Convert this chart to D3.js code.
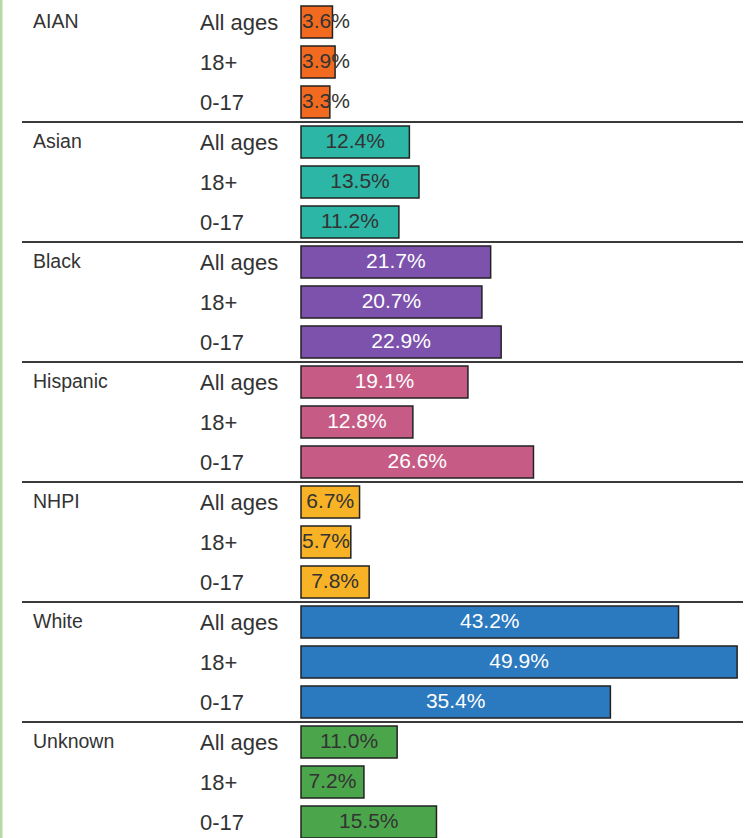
<!DOCTYPE html>
<html>
<head>
<meta charset="utf-8">
<script src="https://cdn.jsdelivr.net/npm/d3@7"></script>
<style>
  body { margin: 0; background: #fff; }
  svg { display: block; font-family: "Liberation Sans", Arial, sans-serif; }
</style>
</head>
<body>
<div id="chart"></div>
<script>
// groups and age bands
const groups = ['AIAN', 'Asian', 'Black', 'Hispanic', 'NHPI', 'White', 'Unknown'];
const ages = ['All ages', '18+', '0-17'];

// percent values per group, in the order of ages
const aianValues = [3.6, 3.9, 3.3];
const asianValues = [12.4, 13.5, 11.2];
const blackValues = [21.7, 20.7, 22.9];
const hispanicValues = [19.1, 12.8, 26.6];
const nhpiValues = [6.7, 5.7, 7.8];
const whiteValues = [43.2, 49.9, 35.4];
const unknownValues = [11.0, 7.2, 15.5];

const colors = ['#f26a1f', '#2cb6a6', '#7c52ad', '#c65c85', '#f7b226', '#2b79be', '#4ba64b'];
const labelColors = ['#333', '#333', '#fff', '#fff', '#333', '#fff', '#333'];

const allValues = [aianValues, asianValues, blackValues, hispanicValues, nhpiValues, whiteValues, unknownValues];

const width = 750;
const height = 838;

// flat rows table built from the arrays above
const rows = [];
groups.forEach((g, gi) => {
    ages.forEach((a, ai) => {
        rows.push({ key: g + '|' + a, group: g, gi: gi, age: a, ai: ai, value: allValues[gi][ai] });
    });
});

const svg = d3.select('#chart')
    .append('svg')
    .attr('width', width)
    .attr('height', height);

// light green edge on the left
svg.append('rect')
    .attr('x', 0).attr('y', 0)
    .attr('width', 2.5).attr('height', height)
    .attr('fill', '#b8d9a3');

const x = d3.scaleLinear().domain([0, 50]).range([301, 738]);
const y = d3.scaleBand()
    .domain(rows.map(d => d.key))
    .range([2, 842])
    .paddingInner(0.2)
    .paddingOuter(0.1);

// separators between groups
svg.selectAll('.sep')
    .data(groups.slice(1))
    .enter()
    .append('line')
    .attr('class', 'sep')
    .attr('x1', 22)
    .attr('x2', 743)
    .attr('y1', g => y(g + '|' + ages[0]) - 4)
    .attr('y2', g => y(g + '|' + ages[0]) - 4)
    .attr('stroke', '#3a3a3a')
    .attr('stroke-width', 2);

// group names
svg.selectAll('.group-label')
    .data(groups)
    .enter()
    .append('text')
    .attr('class', 'group-label')
    .attr('x', 33)
    .attr('y', g => y(g + '|' + ages[0]) + y.bandwidth() / 2)
    .attr('dy', '0.33em')
    .attr('font-size', 19.5)
    .attr('fill', '#333')
    .text(g => g);

// age labels
svg.selectAll('.age-label')
    .data(rows)
    .enter()
    .append('text')
    .attr('class', 'age-label')
    .attr('x', 200)
    .attr('y', d => y(d.key) + y.bandwidth() / 2)
    .attr('dy', '0.35em')
    .attr('font-size', 22)
    .attr('fill', '#333')
    .text(d => d.age);

// bars
svg.selectAll('.bar')
    .data(rows)
    .enter()
    .append('rect')
    .attr('class', 'bar')
    .attr('x', x(0))
    .attr('y', d => y(d.key))
    .attr('width', d => x(d.value) - x(0))
    .attr('height', y.bandwidth())
    .attr('fill', d => colors[d.gi])
    .attr('stroke', '#222')
    .attr('stroke-width', 1.5);

// value labels, centred but never starting left of the bar
const labels = svg.selectAll('.value-label')
    .data(rows)
    .enter()
    .append('text')
    .attr('class', 'value-label')
    .attr('y', d => y(d.key) + y.bandwidth() / 2 - 1)
    .attr('dy', '0.35em')
    .attr('font-size', 21)
    .attr('fill', d => labelColors[d.gi])
    .text(d => d.value.toFixed(1) + '%');

labels.each(function(d) {
    const w = this.getComputedTextLength();
    const center = (x(0) + x(d.value)) / 2;
    d3.select(this).attr('x', Math.max(center - w / 2, x(0) + 1));
});
</script>
</body>
</html>
